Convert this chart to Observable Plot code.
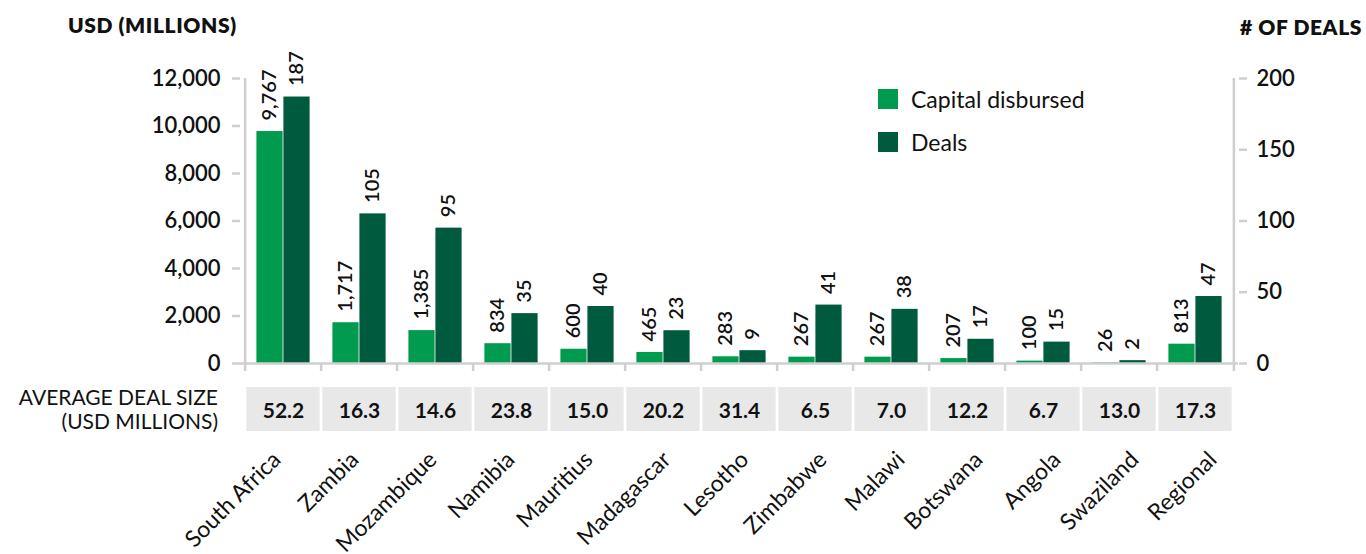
<!DOCTYPE html>
<html><head><meta charset="utf-8">
<script src="https://cdn.jsdelivr.net/npm/d3@7"></script>
<script src="https://cdn.jsdelivr.net/npm/@observablehq/plot@0.6"></script>
<style>
body{margin:0;background:#fff;font-family:Lato,sans-serif;color:#111;}
#chart{position:relative;width:1366px;height:554px;overflow:hidden;}
#chart svg{position:absolute;left:0;}
.t{position:absolute;white-space:nowrap;}
.sw{position:absolute;width:20px;height:20px;}
</style></head><body><div id="chart"></div>
<script>
const countries = ["South Africa","Zambia","Mozambique","Namibia","Mauritius","Madagascar","Lesotho","Zimbabwe","Malawi","Botswana","Angola","Swaziland","Regional"];
const capital = [9767,1717,1385,834,600,465,283,267,267,207,100,26,813];
const deals = [187,105,95,35,40,23,9,41,38,17,15,2,47];
const avgDealSize = [52.2,16.3,14.6,23.8,15.0,20.2,31.4,6.5,7.0,12.2,6.7,13.0,17.3];
const leftTicks = [0,2000,4000,6000,8000,10000,12000];
const rightTicks = [0,50,100,150,200];
const seriesNames = ["Capital disbursed","Deals"];

const W = 1366, ML = 240, MR = 128;
const bw = (W - ML - MR) / countries.length;
const ratio = leftTicks[leftTicks.length-1] / rightTicks[rightTicks.length-1];
const capColor = "#009b4e", dealColor = "#005a3e", axisGray = "#cfcfcf";
const comma = d3.format(",");
const table = countries.map((c,i)=>({country:c, capital:capital[i], deals:deals[i], avg:avgDealSize[i]}));
const chart = document.getElementById("chart");
const font = {fontFamily:"Lato, sans-serif", background:"transparent", overflow:"visible"};

const main = Plot.plot({
  width: W, height: 380, marginLeft: ML, marginRight: MR, marginTop: 78, marginBottom: 17,
  style: font,
  x: {type: "band", domain: countries, padding: 0, axis: null, label: null},
  y: {domain: [0, 12000], axis: null, label: null},
  marks: [
    Plot.barY(table, {x: "country", y: "capital", fill: capColor, insetLeft: 11.4, insetRight: 38.4}),
    Plot.barY(table, {x: "country", y: d => d.deals * ratio, fill: dealColor, insetLeft: 38.4, insetRight: 11.4}),
    Plot.ruleY([0], {stroke: axisGray, strokeWidth: 2.5}),
    Plot.ruleX([countries[0]], {dx: -bw/2, stroke: axisGray, strokeWidth: 2.5}),
    Plot.ruleX([countries[countries.length-1]], {dx: bw/2, stroke: axisGray, strokeWidth: 2.5}),
    Plot.axisX(countries, {tickSize: 8, text: null, dx: -bw/2, color: axisGray, strokeWidth: 2.5, label: null}),
    Plot.axisX([countries[countries.length-1]], {tickSize: 8, text: null, dx: bw/2, color: axisGray, strokeWidth: 2.5, label: null}),
    Plot.axisY(leftTicks, {tickSize: 8, text: null, color: axisGray, strokeWidth: 2.5, label: null}),
    Plot.axisY(leftTicks, {tickSize: 0, tickPadding: 20, tickFormat: comma, fontSize: 22, fontWeight: 600, color: "#111", label: null}),
    Plot.axisY(rightTicks.map(d => d * ratio), {anchor: "right", tickSize: 8, text: null, color: axisGray, strokeWidth: 2.5, label: null}),
    Plot.axisY(rightTicks.map(d => d * ratio), {anchor: "right", tickSize: 0, tickPadding: 18, tickFormat: d => d / ratio, fontSize: 22, fontWeight: 600, color: "#111", label: null}),
    Plot.text(table, {x: "country", y: "capital", text: d => comma(d.capital), rotate: -90, textAnchor: "start", dx: -13.5, dy: -11, fontSize: 20, fontWeight: 600, fill: "#111"}),
    Plot.text(table, {x: "country", y: d => d.deals * ratio, text: d => String(d.deals), rotate: -90, textAnchor: "start", dx: 13.5, dy: -11, fontSize: 20, fontWeight: 600, fill: "#111"})
  ]
});
main.style.top = "0px";
chart.appendChild(main);

const tbl = Plot.plot({
  width: W, height: 44, marginLeft: ML, marginRight: MR, marginTop: 0, marginBottom: 0,
  style: font,
  x: {type: "band", domain: countries, padding: 0, axis: null, label: null},
  marks: [
    Plot.cell(table, {x: "country", fill: "#e8e8e8", insetLeft: 1.4, insetRight: 1.4}),
    Plot.text(table, {x: "country", text: d => d.avg.toFixed(1), fontSize: 21, fontWeight: 700, fill: "#111", dy: 2})
  ]
});
tbl.style.top = "387px";
chart.appendChild(tbl);

const labels = Plot.plot({
  width: W, height: 114, marginLeft: 228, marginRight: 119, marginTop: 9, marginBottom: 0,
  style: font,
  x: {type: "band", domain: countries, padding: 0, axis: null, label: null},
  marks: [
    Plot.text(table, {x: "country", text: "country", frameAnchor: "top", rotate: -45, textAnchor: "end", fontSize: 23, fill: "#111"})
  ]
});
labels.style.top = "440px";
chart.appendChild(labels);

function addText(txt, css){ const d=document.createElement("div"); d.className="t"; d.textContent=txt; Object.assign(d.style, css); chart.appendChild(d); return d; }
addText("USD (MILLIONS)", {left:"68px", top:"12px", fontSize:"21px", fontWeight:"800", lineHeight:"26px", letterSpacing:"0.6px"});
addText("# OF DEALS", {right:"4px", top:"14px", fontSize:"21px", fontWeight:"800", lineHeight:"26px", letterSpacing:"0.6px"});
addText("AVERAGE DEAL SIZE", {right:(W-218)+"px", top:"384px", fontSize:"21px", lineHeight:"25px", textAlign:"right"});
addText("(USD MILLIONS)", {right:(W-218)+"px", top:"408px", fontSize:"21px", lineHeight:"25px", textAlign:"right"});
[capColor, dealColor].forEach((c,i)=>{
  const s=document.createElement("div"); s.className="sw"; s.style.background=c; s.style.left="878px"; s.style.top=(89+43*i)+"px"; chart.appendChild(s);
  addText(seriesNames[i], {left:"911px", top:(84+43*i)+"px", fontSize:"23px", lineHeight:"30px"});
});
</script></body></html>
